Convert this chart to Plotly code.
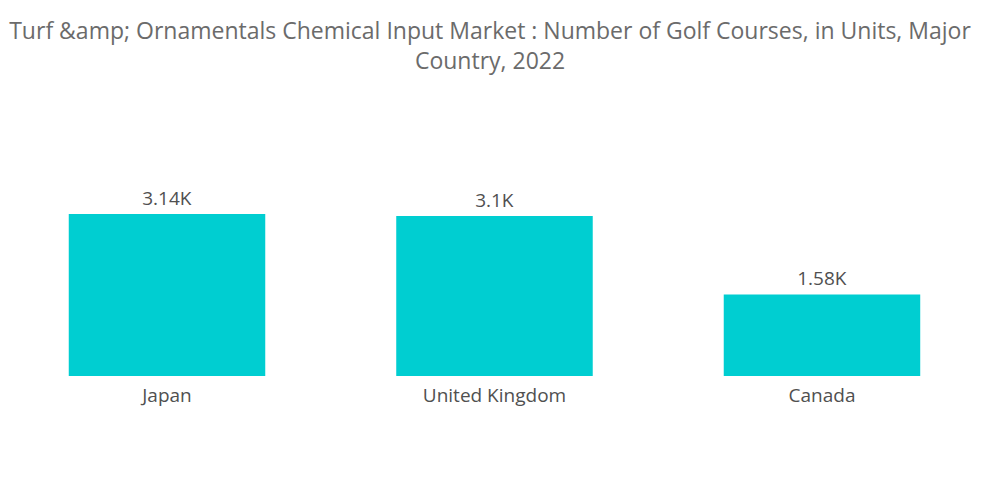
import plotly.graph_objects as go

countries = ["Japan", "United Kingdom", "Canada"]
golf_courses = [3140, 3100, 1580]
value_labels = ["3.14K", "3.1K", "1.58K"]

title_text = ("Turf &amp;amp; Ornamentals Chemical Input Market : Number of Golf Courses, "
              "in Units, Major<br>Country, 2022")

fig = go.Figure(
    go.Bar(
        x=countries,
        y=golf_courses,
        text=value_labels,
        textposition="outside",
        textfont=dict(size=19, color="#505050", family="Open Sans"),
        marker=dict(color="#00CED1", line=dict(width=0)),
        cliponaxis=False,
        hoverinfo="skip",
    )
)

fig.update_layout(
    width=1000,
    height=504,
    paper_bgcolor="white",
    plot_bgcolor="white",
    margin=dict(l=0, r=0, t=110, b=136),
    bargap=0.4,
    showlegend=False,
    font=dict(family="Open Sans", color="#505050"),
    title=dict(
        text=title_text,
        x=0.482,
        xanchor="center",
        y=0.9385,
        yanchor="middle",
        font=dict(size=23, color="#6b6b6b", family="Open Sans"),
    ),
    xaxis=dict(
        range=[-0.4855, 2.568],
        showgrid=False,
        showline=False,
        zeroline=False,
        ticks="outside",
        ticklen=2,
        tickcolor="rgba(0,0,0,0)",
        tickfont=dict(size=19, color="#505050", family="Open Sans"),
    ),
    yaxis=dict(
        range=[0, 5000],
        visible=False,
        showgrid=False,
        zeroline=False,
    ),
)

fig.write_html("out.html")
